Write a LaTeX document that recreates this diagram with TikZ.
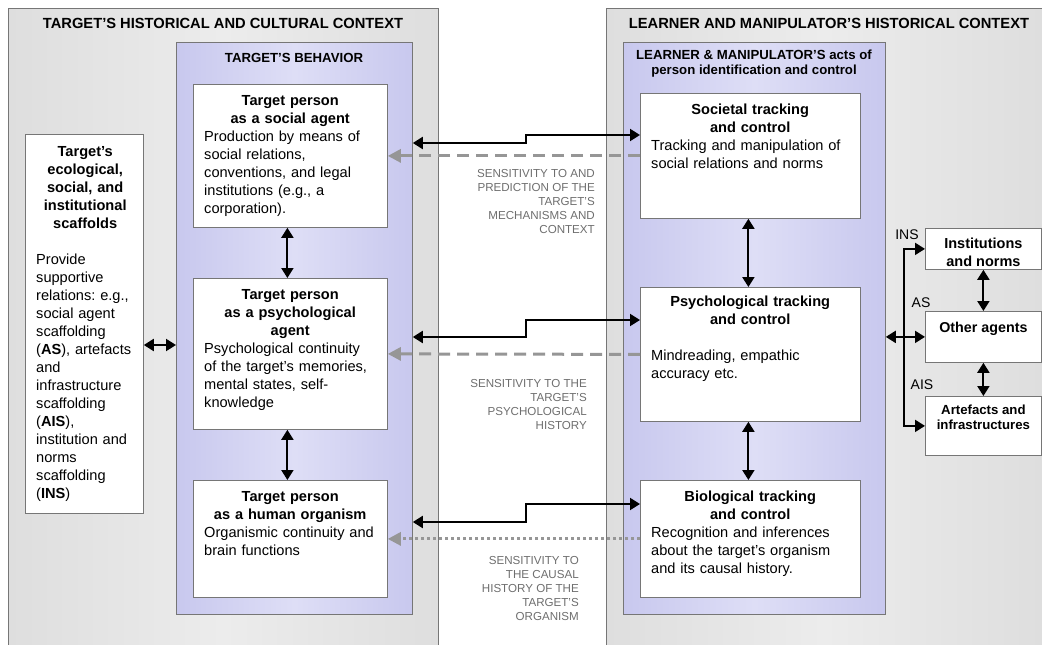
\documentclass[tikz,border=0pt]{standalone}
\usepackage{fontspec}
\setmainfont{Liberation Sans}
\usepackage{xcolor}
\usetikzlibrary{arrows.meta,positioning}

\definecolor{ctxgrey}{RGB}{222,222,222}
\definecolor{ctxlight}{RGB}{236,236,236}
\definecolor{lavender}{RGB}{200,200,238}
\definecolor{lavlight}{RGB}{222,222,246}
\definecolor{edgegrey}{RGB}{118,118,118}
\definecolor{sensgrey}{RGB}{110,110,110}
\definecolor{dashgrey}{RGB}{150,150,150}

\newcommand{\boxhead}[1]{{\centering\bfseries #1\par}}
\frenchspacing

\tikzset{
  card/.style={draw=edgegrey, fill=white, line width=0.8pt, inner sep=0pt, anchor=north west},
  behav/.style={draw=edgegrey, line width=0.8pt, inner sep=0pt, anchor=north west,
    left color=lavender, right color=lavender, middle color=lavlight},
  body/.style={inner sep=0pt, anchor=north west, align=left,
    font=\fontsize{14.6}{18}\selectfont\frenchspacing},
  small/.style={inner sep=0pt, anchor=north, align=center, font=\bfseries},
  head/.style={inner sep=0pt, font=\fontsize{14.7}{17}\selectfont\bfseries},
  subhead/.style={inner sep=0pt, align=center, font=\fontsize{13.2}{15}\selectfont\bfseries},
  sens/.style={inner sep=0pt, anchor=north east, align=right, text=sensgrey,
    font=\fontsize{11.6}{14}\selectfont},
  lbl/.style={inner sep=0pt, font=\fontsize{14}{16}\selectfont},
  dbl/.style={line width=2pt, {Triangle[length=10pt,width=12pt]}-{Triangle[length=10pt,width=12pt]}},
  tip/.style={line width=2pt, -{Triangle[length=10pt,width=12pt]}},
  sensdash/.style={draw=dashgrey, line width=3pt, dash pattern=on 12pt off 7pt,
    -{Triangle[length=13pt,width=13pt]}},
  sensdot/.style={draw=dashgrey, line width=3pt, dash pattern=on 3pt off 3pt,
    -{Triangle[length=13pt,width=13pt]}},
}

\begin{document}
\begin{tikzpicture}[x=1pt, y=-1pt]
  \useasboundingbox (0,0) rectangle (1042,645);

  % Context panels
  \shade[left color=ctxgrey, right color=ctxgrey, middle color=ctxlight] (8,8) rectangle (438,645);
  \draw[edgegrey, line width=0.8pt] (8,645) |- (438,8) -- (438,645);
  \shade[left color=ctxgrey, right color=ctxgrey, middle color=ctxlight] (606,8) rectangle (1042,645);
  \draw[edgegrey, line width=0.8pt] (606,645) |- (1042,8);
  \node[head] (tctx) at (223,23) {TARGET’S HISTORICAL AND CULTURAL CONTEXT};
  \node[head] (lctx) at (829,23) {LEARNER AND MANIPULATOR’S HISTORICAL CONTEXT};

  % Behaviour panels
  \node[behav, minimum width=236pt, minimum height=572pt] (tbeh) at (176,42) {};
  \node[behav, minimum width=262pt, minimum height=572pt] (lbeh) at (623,42) {};
  \node[subhead] (tbeh-t) at (294,57.5) {TARGET’S BEHAVIOR};
  \node[subhead] (lbeh-t) at (754,64) {LEARNER \& MANIPULATOR’S acts of\\person identification and control};

  % Define nodes
  \node[card, minimum width=118pt, minimum height=379pt] (scaf) at (25,134) {};
  \node[card, minimum width=194pt, minimum height=143pt] (tsoc) at (193,84) {};
  \node[card, minimum width=194pt, minimum height=151pt] (tpsy) at (193,278) {};
  \node[card, minimum width=194pt, minimum height=117pt] (tbio) at (193,480) {};
  \node[card, minimum width=220pt, minimum height=125pt] (soc) at (640,93) {};
  \node[card, minimum width=220pt, minimum height=134pt] (psyc) at (640,287) {};
  \node[card, minimum width=220pt, minimum height=117pt] (bio) at (640,480) {};
  \node[card, minimum width=116pt, minimum height=41pt] (inst) at (925,228) {};
  \node[card, minimum width=116pt, minimum height=51pt] (other) at (925,311) {};
  \node[card, minimum width=116pt, minimum height=59pt] (art) at (925,396) {};

  % Box texts
  \node[body, text width=98pt] (scaf-t) at ([xshift=11pt,yshift=-12pt]scaf.north west) {%
    \boxhead{Target’s\\ecological,\\social, and\\institutional\\scaffolds}\vspace{18pt}%
    Provide\\supportive\\relations: e.g.,\\social agent\\scaffolding\\(\textbf{AS}), artefacts\\and\\infrastructure\\scaffolding\\(\textbf{AIS}),\\institution and\\norms\\scaffolding\\(\textbf{INS})};
  \node[body, text width=172pt] (tsoc-t) at ([xshift=11pt,yshift=-11pt]tsoc.north west) {%
    \boxhead{Target person\\as a social agent}%
    Production by means of\\social relations,\\conventions, and legal\\institutions (e.g., a\\corporation).};
  \node[body, text width=172pt] (tpsy-t) at ([xshift=11pt,yshift=-11pt]tpsy.north west) {%
    \boxhead{Target person\\as a psychological\\agent}%
    Psychological continuity\\of the target’s memories,\\mental states, self-\\knowledge};
  \node[body, text width=172pt] (tbio-t) at ([xshift=11pt,yshift=-11pt]tbio.north west) {%
    \boxhead{Target person\\as a human organism}%
    Organismic continuity and\\brain functions};
  \node[body, text width=198pt] (soc-t) at ([xshift=11pt,yshift=-11pt]soc.north west) {%
    \boxhead{Societal tracking\\and control}%
    Tracking and manipulation of\\social relations and norms};
  \node[body, text width=198pt] (psyc-t) at ([xshift=11pt,yshift=-9pt]psyc.north west) {%
    \boxhead{Psychological tracking\\and control}\vspace{18pt}%
    Mindreading, empathic\\accuracy etc.};
  \node[body, text width=198pt] (bio-t) at ([xshift=11pt,yshift=-11pt]bio.north west) {%
    \boxhead{Biological tracking\\and control}%
    Recognition and inferences\\about the target’s organism\\and its causal history.};
  \node[small, font=\fontsize{14.5}{18}\selectfont\bfseries] (inst-t) at ([yshift=-10pt]inst.north) {Institutions\\and norms};
  \node[small, font=\fontsize{14.3}{18}\selectfont\bfseries] (other-t) at ([yshift=-11pt]other.north) {Other agents};
  \node[small, font=\fontsize{13.2}{15}\selectfont\bfseries] (art-t) at ([yshift=-9pt]art.north) {Artefacts and\\infrastructures};

  % Sensitivity labels
  \node[sens] (sens1) at (595,169) {SENSITIVITY TO AND\\PREDICTION OF THE\\TARGET’S\\MECHANISMS AND\\CONTEXT};
  \node[sens] (sens2) at (587,379) {SENSITIVITY TO THE\\TARGET’S\\PSYCHOLOGICAL\\HISTORY};
  \node[sens] (sens3) at (579,556) {SENSITIVITY TO\\THE CAUSAL\\HISTORY OF THE\\TARGET’S\\ORGANISM};

  % Scaffold labels
  \node[lbl] (ins-l) at (907,235) {INS};
  \node[lbl] (as-l) at (921,303) {AS};
  \node[lbl] (ais-l) at (922,385) {AIS};

  % Edges
  \draw[dbl] ([xshift=-3pt]tsoc.south) -- ([xshift=-3pt]tpsy.north);
  \draw[dbl] ([xshift=-3pt]tpsy.south) -- ([xshift=-3pt]tbio.north);
  \draw[dbl] ([xshift=-2pt]soc.south) -- ([xshift=-2pt]psyc.north);
  \draw[dbl] ([xshift=-2pt]psyc.south) -- ([xshift=-2pt]bio.north);
  \draw[dbl] (inst.south) -- (other.north);
  \draw[dbl] (other.south) -- (art.north);
  \draw[dbl] (scaf.east |- 0,345) -- (tbeh.west |- 0,345);

  \draw[dbl] (tbeh.east |- 0,143) -- (526,143) -- (526,135) -- (soc.west |- 0,135);
  \draw[dbl] (tbeh.east |- 0,337) -- (526,337) -- (526,320) -- (psyc.west |- 0,320);
  \draw[dbl] (tbeh.east |- 0,522) -- (526,522) -- (526,504) -- (bio.west |- 0,504);
  \draw[sensdash] (soc.west) -- (tsoc.east);
  \draw[sensdash] (psyc.west) -- (tpsy.east);
  \draw[sensdot] (bio.west) -- (tbio.east);

  \coordinate (hub) at ([xshift=-21pt]other.west);
  \draw[tip] (hub) |- (inst.west);
  \draw[tip] (hub) |- (art.west);
  \draw[dbl] (lbeh.east |- other.west) -- (other.west);
\end{tikzpicture}
\end{document}
